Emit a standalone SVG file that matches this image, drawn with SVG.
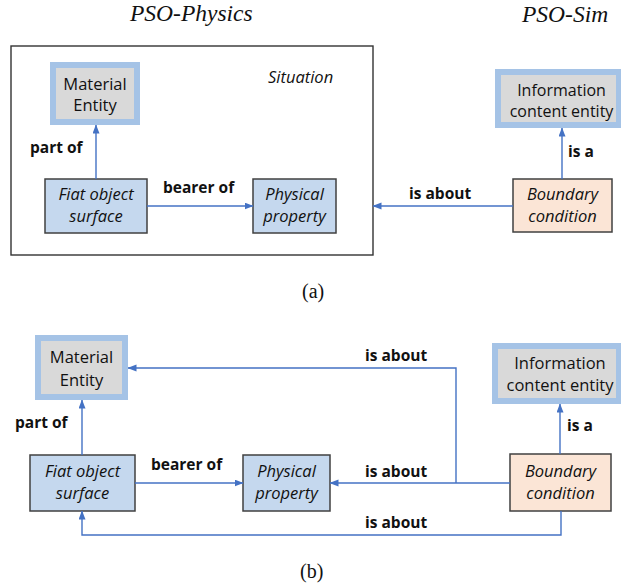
<svg xmlns="http://www.w3.org/2000/svg" width="621" height="585" viewBox="0 0 621 585">
<defs>
<marker id="ah" markerUnits="userSpaceOnUse" markerWidth="9" markerHeight="8" refX="8.5" refY="3.5" orient="auto">
<path d="M0,0 L9,3.5 L0,7 z" fill="#4472C4"/>
</marker>
<style>
.title{font-family:"Liberation Serif","Times New Roman",serif;font-style:italic;font-size:23.5px;fill:#111}
.cap{font-family:"Liberation Serif","Times New Roman",serif;font-size:20px;fill:#111}
.t{font-family:"Open Sans","Noto Sans",sans-serif;font-size:16.5px;fill:#111;text-anchor:middle}
.ts{font-family:"Open Sans","Noto Sans",sans-serif;font-size:16px;fill:#111;text-anchor:middle}
.ti{font-family:"Open Sans","Noto Sans",sans-serif;font-size:16.5px;font-style:italic;fill:#111;text-anchor:middle}
.lbl{font-family:"Open Sans","Noto Sans",sans-serif;font-size:15.5px;font-weight:bold;fill:#111}
.gen{fill:#D9D9D9;stroke:#A5C3E6;stroke-width:6}
.blue{fill:#C5D8EE;stroke:#404040;stroke-width:1.5}
.peach{fill:#FBE5D6;stroke:#404040;stroke-width:1.5}
.con{fill:none;stroke:#4472C4;stroke-width:1.4;marker-end:url(#ah)}
</style>
</defs>
<rect width="621" height="585" fill="#fff"/>

<text class="title" x="130" y="21">PSO-Physics</text>
<text class="title" x="522" y="22">PSO-Sim</text>

<!-- (a) -->
<g id="situation-a">
<rect x="11" y="46" width="362" height="209" fill="none" stroke="#333" stroke-width="1.4"/>
<text x="268" y="83" style="font-family:'Open Sans','Noto Sans',sans-serif;font-size:16.5px;font-style:italic;fill:#111">Situation</text>
</g>
<g id="material-entity-a">
<rect class="gen" x="53" y="65" width="84" height="57"/>
<text class="t" x="95" y="90">Material</text>
<text class="t" x="95" y="111">Entity</text>
</g>
<g id="fiat-a">
<rect class="blue" x="45" y="179" width="102" height="54"/>
<text class="ti" x="96" y="200">Fiat object</text>
<text class="ti" x="96" y="222">surface</text>
</g>
<g id="physical-a">
<rect class="blue" x="253" y="179" width="83" height="54"/>
<text class="ti" x="294.5" y="200">Physical</text>
<text class="ti" x="294.5" y="222">property</text>
</g>
<g id="ice-a">
<rect class="gen" x="498" y="72" width="121" height="53"/>
<text class="ts" x="561.5" y="95.5">Information</text>
<text class="ts" x="561.5" y="117">content entity</text>
</g>
<g id="boundary-a">
<rect class="peach" x="513" y="179" width="99" height="53"/>
<text class="ti" x="562.5" y="200">Boundary</text>
<text class="ti" x="562.5" y="222">condition</text>
</g>
<g id="connectors-a">
<path class="con" d="M96,179 V125"/>
<path class="con" d="M147,206 H253"/>
<path class="con" d="M562,179 V128"/>
<path class="con" d="M513,206 H373"/>
<text class="lbl" x="30" y="153">part of</text>
<text class="lbl" x="163" y="193">bearer of</text>
<text class="lbl" x="568" y="157">is a</text>
<text class="lbl" x="409" y="199">is about</text>
</g>
<text class="cap" x="302" y="298">(a)</text>

<!-- (b) -->
<g id="material-entity-b">
<rect class="gen" x="38" y="338" width="87" height="59"/>
<text class="t" x="81.5" y="363">Material</text>
<text class="t" x="81.5" y="386">Entity</text>
</g>
<g id="fiat-b">
<rect class="blue" x="30" y="455" width="105" height="56"/>
<text class="ti" x="82.5" y="477">Fiat object</text>
<text class="ti" x="82.5" y="499">surface</text>
</g>
<g id="physical-b">
<rect class="blue" x="243" y="455" width="87" height="56"/>
<text class="ti" x="286.5" y="477">Physical</text>
<text class="ti" x="286.5" y="499">property</text>
</g>
<g id="ice-b">
<rect class="gen" x="495" y="346" width="124" height="55"/>
<text class="t" x="560" y="369">Information</text>
<text class="t" x="560" y="391">content entity</text>
</g>
<g id="boundary-b">
<rect class="peach" x="510" y="454" width="101" height="57"/>
<text class="ti" x="560.5" y="477">Boundary</text>
<text class="ti" x="560.5" y="499">condition</text>
</g>
<g id="connectors-b">
<path class="con" d="M82,455 V400"/>
<path class="con" d="M135,483 H243"/>
<path class="con" d="M560,454 V404"/>
<path class="con" d="M510,483 H330"/>
<path class="con" d="M456,483 V368 H128"/>
<path class="con" d="M561,511 V535 H82 V511"/>
<text class="lbl" x="15" y="428">part of</text>
<text class="lbl" x="151" y="470">bearer of</text>
<text class="lbl" x="567" y="431">is a</text>
<text class="lbl" x="365" y="361">is about</text>
<text class="lbl" x="365" y="477">is about</text>
<text class="lbl" x="365" y="528">is about</text>
</g>
<text class="cap" x="300" y="578">(b)</text>
</svg>
